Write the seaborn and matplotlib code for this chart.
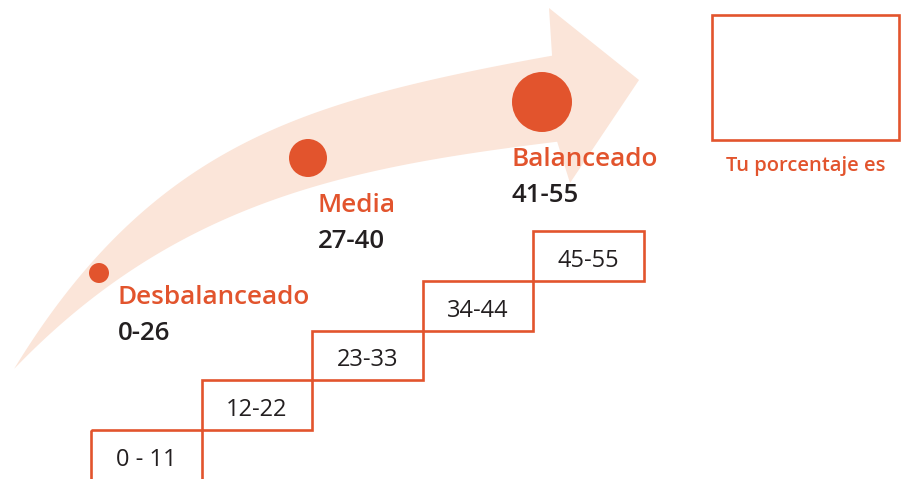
import numpy as np
import matplotlib
matplotlib.use("Agg")
import matplotlib.pyplot as plt
from matplotlib.patches import Rectangle, Polygon
import pandas as pd
import seaborn as sns

sns.set_theme(style="white")
plt.rcParams['font.family'] = ['Open Sans', 'DejaVu Sans']

# datos
levels = ["Desbalanceado", "Media", "Balanceado"]
level_ranges = ["0-26", "27-40", "41-55"]
step_labels = ["0 - 11", "12-22", "23-33", "34-44", "45-55"]
box_caption = "Tu porcentaje es"

# colores
orange = "#E2542D"
peach = "#FBE5D9"
dark = "#231F20"

# layout en pixeles (eje y invertido)
dot_x = [99, 308, 542]
dot_y = [273, 158, 102]
dot_r = [10, 19, 30]
label_x = [118, 318, 512]
label_y = [298, 205, 160]

step_x0, step_w = 91, 110.5
step_y0, step_h = 430, 49.75

fig = plt.figure(figsize=(9.02, 4.79), dpi=100)
ax = fig.add_axes([0, 0, 1, 1])

# flecha curva
upper_pts = np.array([(14, 369), (40, 327), (83, 267), (127, 230), (250, 138), (430, 80), (552, 55)])
lower_pts = np.array([(14, 369), (50, 330), (100, 295), (160, 250), (250, 208), (430, 160), (500, 148), (560, 141)])
up = np.poly1d(np.polyfit(upper_pts[:, 0], upper_pts[:, 1], 4))
lo = np.poly1d(np.polyfit(lower_pts[:, 0], lower_pts[:, 1], 4))
xs = np.linspace(14, 560, 400)
ax.fill_between(xs, up(xs), lo(xs), color=peach, lw=0, zorder=0)
ax.add_patch(Polygon([(549, 8), (639, 80), (570, 183), (556, 138), (552, 55)],
                     closed=True, color=peach, lw=0, zorder=0))

# puntos
dots = pd.DataFrame({"x": dot_x, "y": dot_y, "nivel": levels})
sizes = {lv: (2 * r * 0.72) ** 2 for lv, r in zip(levels, dot_r)}
sns.scatterplot(data=dots, x="x", y="y", size="nivel", sizes=sizes, color=orange,
                edgecolor="none", legend=False, ax=ax, zorder=2)
ax.set_xlim(0, 902)
ax.set_ylim(479, 0)
ax.axis("off")

for i, (lv, rg) in enumerate(zip(levels, level_ranges)):
    ax.text(label_x[i], label_y[i], lv, color=orange, fontsize=18.8, fontweight="semibold",
            ha="left", va="center", zorder=3)
    ax.text(label_x[i], label_y[i] + 36, rg, color=dark, fontsize=18.5, fontweight="semibold",
            ha="left", va="center", zorder=3)

# escalones
for i, lab in enumerate(step_labels):
    left = step_x0 + i * step_w
    top = step_y0 - i * step_h
    h = step_h if i > 0 else 70
    ax.add_patch(Rectangle((left, top), step_w, h, fill=False, ec=orange, lw=1.9, zorder=1))
    ax.text(left + step_w / 2, top + 30, lab, color=dark, fontsize=17,
            ha="center", va="center", zorder=3)

# caja del porcentaje
ax.add_patch(Rectangle((712, 15), 187, 125, fill=False, ec=orange, lw=1.9, zorder=1))
ax.text(806, 166, box_caption, color=orange, fontsize=14.5, fontweight="semibold",
        ha="center", va="center", zorder=3)

fig.savefig("out.png", dpi=100)
